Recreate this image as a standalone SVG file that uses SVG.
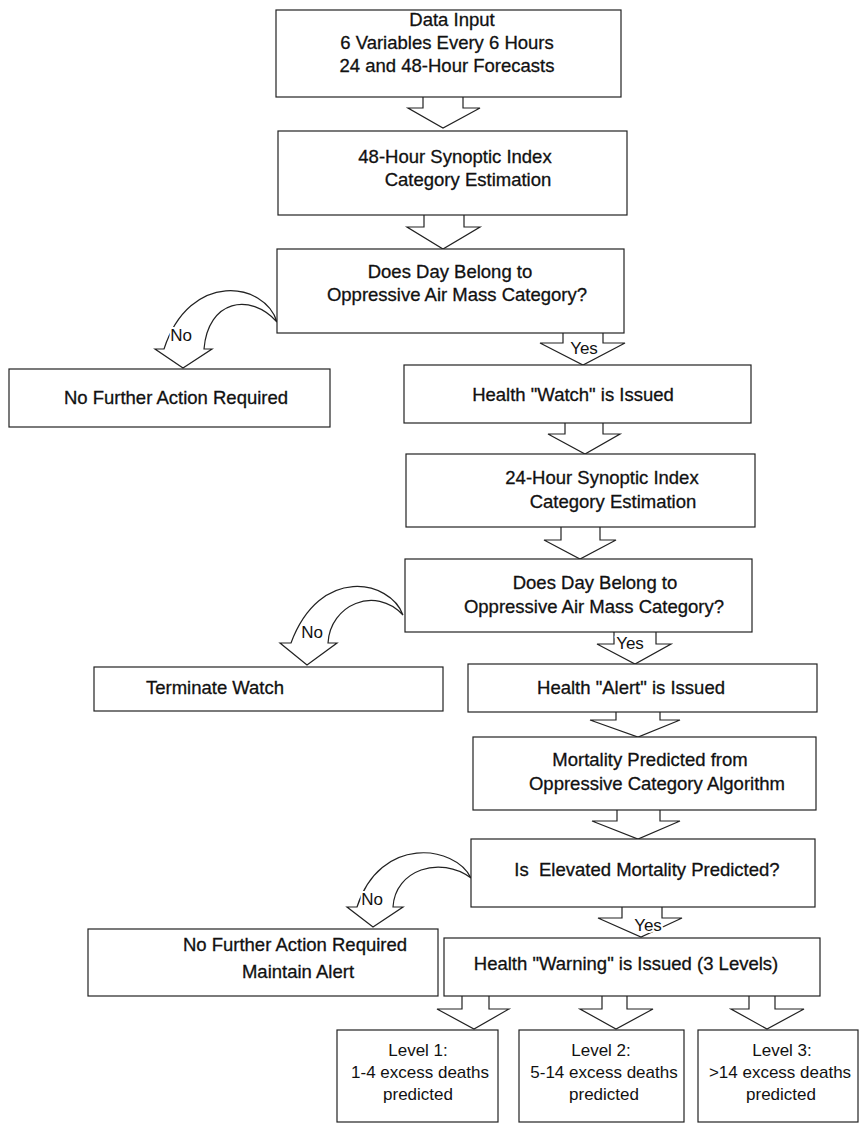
<svg xmlns="http://www.w3.org/2000/svg" width="861" height="1125" viewBox="0 0 861 1125">
<style>
.box{fill:#fff;stroke:#222;stroke-width:1.2}
.arr{fill:#fff;stroke:#222;stroke-width:1.2;stroke-linejoin:miter}
text{font-family:"Liberation Sans",Arial,sans-serif;fill:#111;text-anchor:middle}
.t{font-size:18.5px;stroke:#111;stroke-width:0.3}
.s{font-size:17px}
.lbl{font-size:17px;stroke:#fff;stroke-width:4;paint-order:stroke;stroke-linejoin:round}
</style>
<rect width="861" height="1125" fill="#fff"/>
<g id="connectors">
<path class="arr" d="M423,97 L423,108 L408,108 L443,128 L480,108 L463,108 L463,97"/>
<path class="arr" d="M424,215 L424,227 L407,227 L443,249 L480,227 L464,227 L464,215"/>
<path class="arr" d="M563,333 L563,343 L540,343 L583,365 L625,343 L603,343 L603,333"/>
<path class="arr" d="M565,423 L565,434 L548,434 L585,454 L620,434 L603,434 L603,423"/>
<path class="arr" d="M561,527 L561,540 L544,540 L580,559 L616,540 L600,540 L600,527"/>
<path class="arr" d="M614,632 L614,644 L597,644 L635,664 L671,644 L656,644 L656,632"/>
<path class="arr" d="M616,712 L616,720 L590,720 L638,737 L680,720 L660,720 L660,712"/>
<path class="arr" d="M617,810 L617,821 L592,821 L638,839 L680,821 L660,821 L660,810"/>
<path class="arr" d="M622,907 L622,918 L598,918 L641,937 L682,918 L662,918 L662,907"/>
<path class="arr" d="M462,996 L462,1009 L437,1009 L474,1029 L509,1009 L489,1009 L489,996"/>
<path class="arr" d="M602,996 L602,1009 L580,1009 L616,1029 L653,1009 L627,1009 L627,996"/>
<path class="arr" d="M749,996 L749,1009 L731,1009 L767,1029 L804,1009 L775,1009 L775,996"/>
<path class="arr" d="M277,322 C265,282 190,270 164,349 L155,349 L183,368 L212,349 L204,349 C208,300 250,292 277,322 Z"/>
<path class="arr" d="M403,615 C390,580 320,565 291,643 L280,643 L307,665 L337,643 L328,643 C330,605 375,585 403,615 Z"/>
<path class="arr" d="M471,878 C455,845 380,835 357,907 L347,907 L373,927 L403,907 L393,907 C395,870 440,855 471,878 Z"/>
<text class="lbl" x="181" y="341">No</text>
<text class="lbl" x="584" y="354">Yes</text>
<text class="lbl" x="312" y="638">No</text>
<text class="lbl" x="630" y="649">Yes</text>
<text class="lbl" x="372" y="905">No</text>
<text class="lbl" x="648" y="931">Yes</text>
</g>
<g id="n1"><rect class="box" x="276" y="10" width="345" height="87"/>
<text class="t" x="452" y="26">Data Input</text>
<text class="t" x="447" y="49">6 Variables Every 6 Hours</text>
<text class="t" x="447" y="72">24 and 48-Hour Forecasts</text></g>
<g id="n2"><rect class="box" x="278" y="131" width="349" height="84"/>
<text class="t" x="455" y="163">48-Hour Synoptic Index</text>
<text class="t" x="468" y="186">Category Estimation</text></g>
<g id="n3"><rect class="box" x="277" y="249" width="347" height="84"/>
<text class="t" x="450" y="278">Does Day Belong to</text>
<text class="t" x="457" y="301">Oppressive Air Mass Category?</text></g>
<g id="n4"><rect class="box" x="9" y="369" width="321" height="58"/>
<text class="t" x="176" y="404">No Further Action Required</text></g>
<g id="n5"><rect class="box" x="404" y="365" width="347" height="58"/>
<text class="t" x="573" y="401">Health "Watch" is Issued</text></g>
<g id="n6"><rect class="box" x="406" y="454" width="349" height="73"/>
<text class="t" x="602" y="484">24-Hour Synoptic Index</text>
<text class="t" x="613" y="508">Category Estimation</text></g>
<g id="n7"><rect class="box" x="405" y="559" width="347" height="73"/>
<text class="t" x="595" y="589">Does Day Belong to</text>
<text class="t" x="594" y="613">Oppressive Air Mass Category?</text></g>
<g id="n8"><rect class="box" x="94" y="667" width="349" height="44"/>
<text class="t" x="215" y="694">Terminate Watch</text></g>
<g id="n9"><rect class="box" x="468" y="664" width="349" height="48"/>
<text class="t" x="631" y="694">Health "Alert" is Issued</text></g>
<g id="n10"><rect class="box" x="473" y="737" width="343" height="73"/>
<text class="t" x="650" y="766">Mortality Predicted from</text>
<text class="t" x="657" y="790">Oppressive Category Algorithm</text></g>
<g id="n11"><rect class="box" x="471" y="839" width="344" height="68"/>
<text class="t" x="647" y="876" style="white-space:pre">Is  Elevated Mortality Predicted?</text></g>
<g id="n12"><rect class="box" x="88" y="929" width="350" height="67"/>
<text class="t" x="295" y="951">No Further Action Required</text>
<text class="t" x="298" y="978">Maintain Alert</text></g>
<g id="n13"><rect class="box" x="444" y="938" width="376" height="58"/>
<text class="t" x="626" y="970">Health "Warning" is Issued (3 Levels)</text></g>
<g id="n14"><rect class="box" x="337" y="1030" width="161" height="92"/>
<text class="s" x="418" y="1056">Level 1:</text>
<text class="s" x="420" y="1078">1-4 excess deaths</text>
<text class="s" x="418" y="1100">predicted</text></g>
<g id="n15"><rect class="box" x="519" y="1030" width="165" height="92"/>
<text class="s" x="601" y="1056">Level 2:</text>
<text class="s" x="604" y="1078">5-14 excess deaths</text>
<text class="s" x="604" y="1100">predicted</text></g>
<g id="n16"><rect class="box" x="698" y="1030" width="160" height="92"/>
<text class="s" x="782" y="1056">Level 3:</text>
<text class="s" x="780" y="1078">&gt;14 excess deaths</text>
<text class="s" x="781" y="1100">predicted</text></g>
</svg>
